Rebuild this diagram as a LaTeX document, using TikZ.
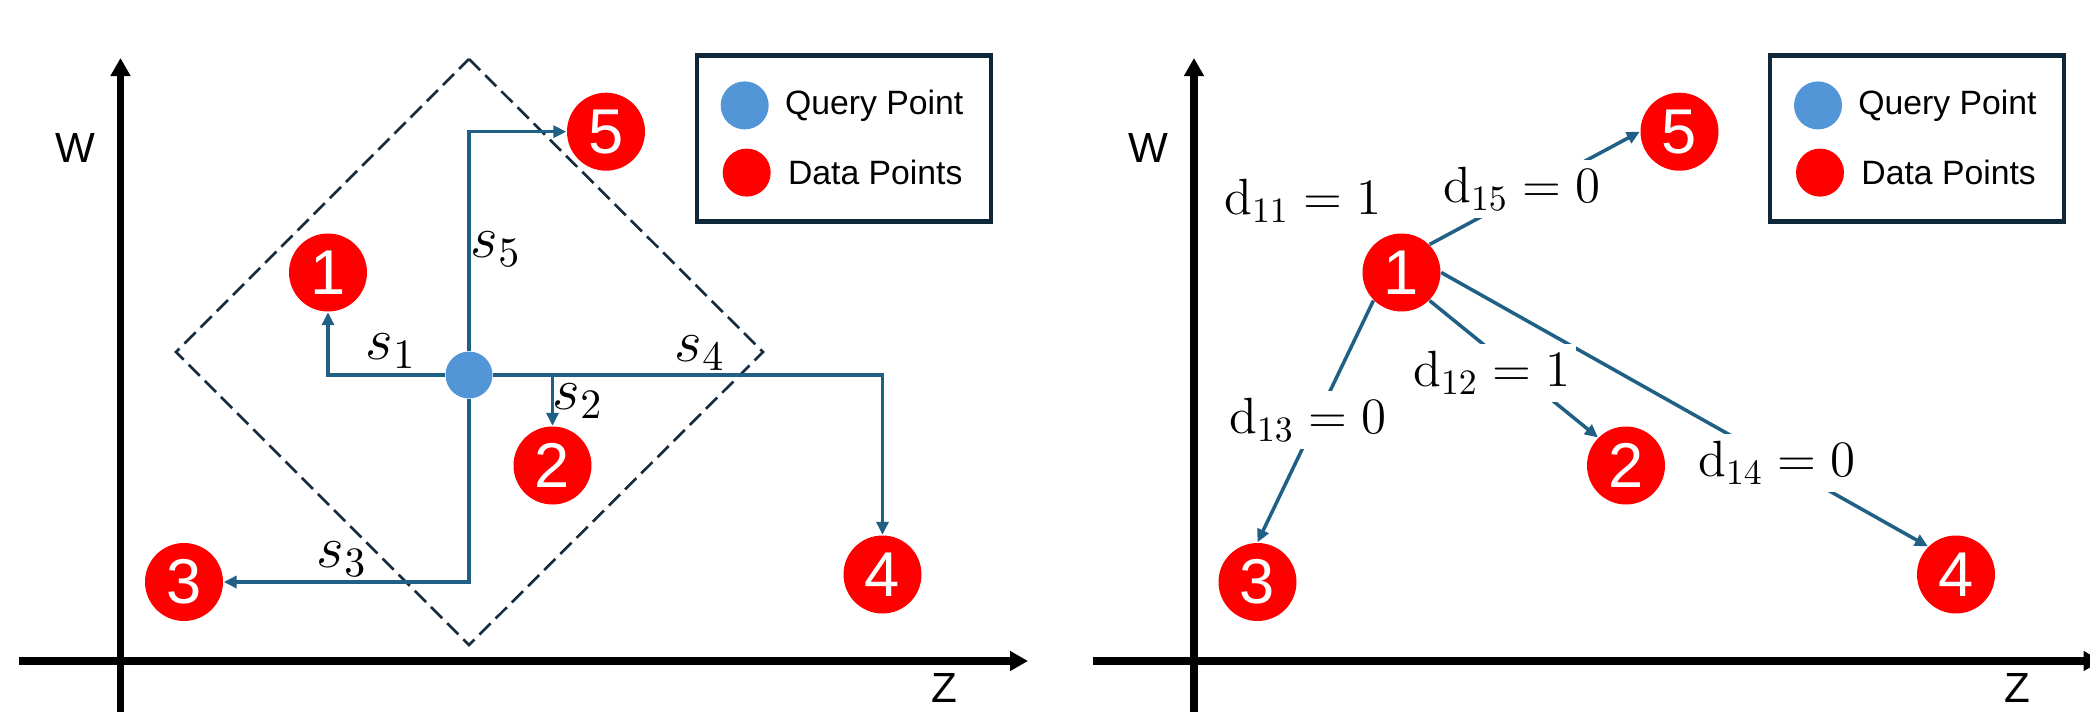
\RequirePackage{fix-cm}
\documentclass[tikz,border=0pt]{standalone}
\usepackage[no-math]{fontspec}
\usepackage{amsmath}
\usepackage{xcolor}
\usepackage{tikz}
\newfontfamily\plotfont{Liberation Sans}
\definecolor{flowblue}{RGB}{31,96,132}
\definecolor{queryblue}{RGB}{83,150,216}
\definecolor{legendnavy}{RGB}{14,40,58}
\definecolor{dashnavy}{RGB}{22,44,62}
\usetikzlibrary{positioning,arrows.meta}

\begin{document}
\begin{tikzpicture}[
    x=0.1mm, y=-0.1mm,
    axis/.style={line width=2.2pt, -{Triangle[length=1.8mm, width=1.9mm]}},
    axislabel/.style={font=\plotfont\fontsize{12}{12}\selectfont, inner sep=0pt},
    datapt/.style={circle, fill=red, minimum size=0.78cm, inner sep=0pt, text=white, font=\plotfont\fontsize{18}{18}\selectfont},
    querypt/.style={circle, fill=queryblue, minimum size=0.47cm, inner sep=0pt},
    legendbox/.style={rectangle, draw=legendnavy, line width=1.2pt, minimum width=2.94cm, minimum height=1.66cm},
    legenddot/.style={circle, minimum size=0.48cm, inner sep=0pt},
    legendtext/.style={font=\plotfont\fontsize{9.6}{10}\selectfont, inner sep=0pt},
    flow/.style={draw=flowblue, line width=1pt, -{Triangle[length=1.3mm, width=1.2mm]}},
    window/.style={draw=dashnavy, line width=0.75pt, dash pattern=on 4.5pt off 2pt},
    slabel/.style={font=\fontsize{17}{17}\selectfont, inner sep=0pt},
    dlabel/.style={fill=white, font=\fontsize{14.5}{15}\selectfont, minimum width=1.68cm, minimum height=0.58cm, inner sep=1pt},
]
\useasboundingbox (0,0) rectangle (2090,712);
\clip (0,0) rectangle (2090,712);

% Left panel: axes
\draw[axis] (19,661) -- (1028,661);
\draw[axis] (120.5,712) -- (120.5,58);
\node[axislabel] (wL) at (75,148) {W};
\node[axislabel] (zL) at (944,688) {Z};

% Search window
\draw[window] (469,59) -- (763,352) -- (469,645) -- (176,352) -- cycle;

% Query point and data points
\node[querypt] (q) at (469,375) {};
\node[datapt] (p1) at (328,272.5) {1};
\node[datapt] (p2) at (552.5,465.5) {2};
\node[datapt] (p3) at (184,582) {3};
\node[datapt] (p4) at (882.5,574.5) {4};
\node[datapt] (p5) at (606,131.7) {5};

% Distances from the query
\draw[flow] (q) -| (p1);
\draw[flow] (q) -| (p2);
\draw[flow] (q) |- (p3);
\draw[flow] (q) -| (p4);
\draw[flow] (q) |- (p5);

\node[slabel] (s1) at (391,351) {$s_1$};
\node[slabel] (s2) at (578,401) {$s_2$};
\node[slabel] (s3) at (342,559) {$s_3$};
\node[slabel] (s4) at (700,353) {$s_4$};
\node[slabel] (s5) at (496,249) {$s_5$};

% Legend
\node[legendbox] (legL) at (843.75,138.5) {};
\node[legenddot, fill=queryblue] (lqL) at (744.7,105.4) {};
\node[legendtext, right=0.15cm of lqL] (lqtL) {Query Point};
\node[legenddot, fill=red] (ldL) at (746.7,172.6) {};
\node[legendtext, right=0.16cm of ldL] (ldtL) {Data Points};

% Right panel: axes
\draw[axis] (1092.5,661) -- (2101.5,661);
\draw[axis] (1194,712) -- (1194,58);
\node[axislabel] (wR) at (1148.5,148) {W};
\node[axislabel] (zR) at (2017.5,688) {Z};

% Data points
\node[datapt] (b1) at (1401.5,272.5) {1};
\node[datapt] (b2) at (1626,465.5) {2};
\node[datapt] (b3) at (1257.5,582) {3};
\node[datapt] (b4) at (1956,574.5) {4};
\node[datapt] (b5) at (1679.5,131.7) {5};

% Links from point 1
\draw[flow] (b1.45) -- (b5.west);
\draw[flow] (b1.-45) -- (b2.135);
\draw[flow] (b1.225) -- (b3.north);
\draw[flow] (b1.east) -- (b4.135);

\node[dlabel] (d11) at (1303,201) {$\mathrm{d}_{11} = 1$};
\node[dlabel] (d15) at (1522,189) {$\mathrm{d}_{15} = 0$};
\node[dlabel] (d12) at (1492,372.5) {$\mathrm{d}_{12} = 1$};
\node[dlabel] (d13) at (1308,419.6) {$\mathrm{d}_{13} = 0$};
\node[dlabel] (d14) at (1777,463) {$\mathrm{d}_{14} = 0$};

% Legend
\node[legendbox] (legR) at (1917.25,138.5) {};
\node[legenddot, fill=queryblue] (lqR) at (1818,105.4) {};
\node[legendtext, right=0.15cm of lqR] (lqtR) {Query Point};
\node[legenddot, fill=red] (ldR) at (1820,172.6) {};
\node[legendtext, right=0.16cm of ldR] (ldtR) {Data Points};

\end{tikzpicture}
\end{document}
